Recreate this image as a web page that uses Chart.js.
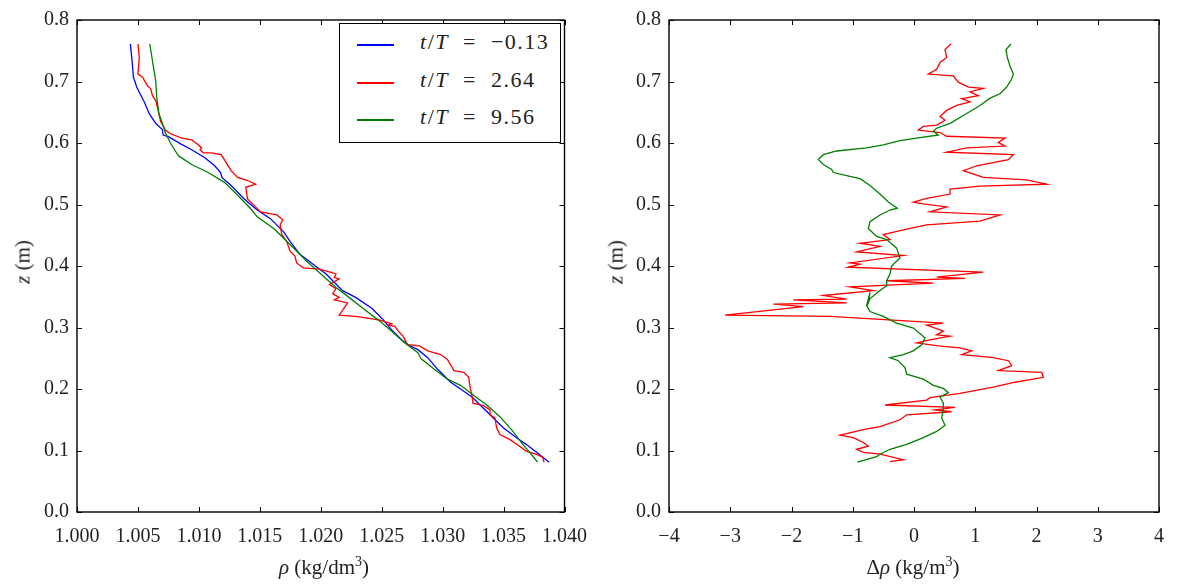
<!DOCTYPE html>
<html>
<head>
<meta charset="utf-8">
<script src="https://cdn.jsdelivr.net/npm/chart.js@4.4.1/dist/chart.umd.min.js"></script>
<style>
  body { margin: 0; background: #fff; font-family: "Liberation Serif", serif; }
  #wrap { position: relative; width: 1180px; height: 587px; overflow: hidden; }
  .box { position: absolute; top: 0; height: 587px; }
  .title { position: absolute; font-size: 21px; color: #222; white-space: nowrap; }
  .ytitle { transform: translate(-50%, -50%) rotate(-90deg); }
  .xtitle { transform: translate(-50%, -50%); }
  sup { font-size: 14px; vertical-align: 8px; line-height: 0; }
  #legend { position: absolute; left: 339px; top: 23px; width: 220px; height: 118px; border: 1.5px solid #000; background: #fff; }
  .row { position: absolute; left: 0; width: 220px; height: 30px; font-size: 22px; color: #222; }
  .row .ln { position: absolute; left: 17px; width: 37px; top: 18px; height: 1.6px; }
  .row .tx { position: absolute; left: 80px; top: 3px; white-space: nowrap; letter-spacing: 1.5px; }
</style>
</head>
<body>
<div id="wrap">
  <div class="box" style="left:0;width:600px"><canvas id="left-chart" width="600" height="587"></canvas></div>
  <div class="box" style="left:600px;width:580px"><canvas id="right-chart" width="580" height="587"></canvas></div>
  <div class="title ytitle" style="left:23px;top:262px"><i>z</i> (m)</div>
  <div class="title ytitle" style="left:616px;top:262px"><i>z</i> (m)</div>
  <div class="title xtitle" style="left:324px;top:567px"><i>ρ</i> (kg/dm<sup>3</sup>)</div>
  <div class="title xtitle" style="left:913px;top:567px">Δ<i>ρ</i> (kg/m<sup>3</sup>)</div>
  <div id="legend">
    <div class="row" style="top:2px"><div class="ln" style="background:#0000ff"></div><span class="tx"><i>t</i>/<i>T</i>&nbsp; =&nbsp; −0.13</span></div>
    <div class="row" style="top:40px"><div class="ln" style="background:#ff0000"></div><span class="tx"><i>t</i>/<i>T</i>&nbsp; =&nbsp; 2.64</span></div>
    <div class="row" style="top:77px"><div class="ln" style="background:#008000"></div><span class="tx"><i>t</i>/<i>T</i>&nbsp; =&nbsp; 9.56</span></div>
  </div>
</div>
<script>
// ---- data: left panel, density profiles rho(z) ----
const blueRho = [1.00438, 1.00452, 1.00463, 1.0049, 1.0051, 1.00551, 1.00592, 1.00645, 1.007, 1.00707, 1.00753, 1.00847, 1.00941, 1.01049, 1.0113, 1.01178, 1.01189, 1.01264, 1.01372, 1.01479, 1.01587, 1.01694, 1.01748, 1.01829, 1.01937, 1.02044, 1.02098, 1.02179, 1.02286, 1.02421, 1.02515, 1.02582, 1.02663, 1.02717, 1.02797, 1.02878, 1.02959, 1.03066, 1.03147, 1.03241, 1.03308, 1.03389, 1.03497, 1.03604, 1.03685, 1.03792, 1.03873];
const blueZ = [0.761, 0.733, 0.707, 0.691, 0.683, 0.667, 0.648, 0.632, 0.622, 0.613, 0.610, 0.599, 0.589, 0.576, 0.563, 0.552, 0.544, 0.531, 0.509, 0.491, 0.477, 0.456, 0.44, 0.419, 0.403, 0.387, 0.376, 0.36, 0.349, 0.331, 0.312, 0.296, 0.28, 0.272, 0.264, 0.251, 0.232, 0.211, 0.2, 0.187, 0.174, 0.158, 0.137, 0.121, 0.110, 0.094, 0.081];

const redRho = [1.005, 1.00511, 1.005, 1.00538, 1.00578, 1.00605, 1.00619, 1.00646, 1.00659, 1.00672, 1.00686, 1.00726, 1.00767, 1.00861, 1.00941, 1.00995, 1.01022, 1.01009, 1.01036, 1.01103, 1.01184, 1.01224, 1.01264, 1.01318, 1.01399, 1.01466, 1.01385, 1.01399, 1.01452, 1.01506, 1.0164, 1.01688, 1.01667, 1.0168, 1.0172, 1.01748, 1.01788, 1.01802, 1.01856, 1.0199, 1.02098, 1.02125, 1.02111, 1.02151, 1.02071, 1.02125, 1.02098, 1.02151, 1.02111, 1.0222, 1.02151, 1.02286, 1.02488, 1.02582, 1.02555, 1.02609, 1.02636, 1.02676, 1.02703, 1.02717, 1.0281, 1.02878, 1.02985, 1.03039, 1.03093, 1.03174, 1.03214, 1.03227, 1.0324, 1.03249, 1.03335, 1.03389, 1.03389, 1.03429, 1.03443, 1.0347, 1.0355, 1.03631, 1.03685, 1.03766, 1.0382, 1.03833];
const redZ = [0.761, 0.739, 0.712, 0.707, 0.693, 0.688, 0.677, 0.669, 0.659, 0.648, 0.635, 0.621, 0.615, 0.608, 0.605, 0.597, 0.592, 0.589, 0.584, 0.584, 0.581, 0.568, 0.555, 0.544, 0.539, 0.533, 0.528, 0.509, 0.499, 0.488, 0.483, 0.475, 0.467, 0.451, 0.440, 0.424, 0.416, 0.405, 0.397, 0.395, 0.389, 0.387, 0.381, 0.379, 0.370, 0.363, 0.355, 0.349, 0.345, 0.340, 0.320, 0.318, 0.312, 0.306, 0.304, 0.302, 0.294, 0.286, 0.275, 0.272, 0.27, 0.262, 0.256, 0.248, 0.23, 0.227, 0.219, 0.201, 0.19, 0.177, 0.173, 0.166, 0.158, 0.153, 0.137, 0.126, 0.118, 0.107, 0.099, 0.094, 0.089, 0.081];

const greenRho = [1.00597, 1.00624, 1.00646, 1.00654, 1.00672, 1.007, 1.00726, 1.00767, 1.00807, 1.00834, 1.00941, 1.01076, 1.0121, 1.01318, 1.01425, 1.01479, 1.01614, 1.01748, 1.01883, 1.02017, 1.02125, 1.02232, 1.02367, 1.02474, 1.02582, 1.0269, 1.02797, 1.02824, 1.02932, 1.03039, 1.03147, 1.03254, 1.03362, 1.0347, 1.03577, 1.03658, 1.03739, 1.03779];
const greenZ = [0.761, 0.728, 0.701, 0.675, 0.648, 0.632, 0.616, 0.600, 0.587, 0.579, 0.565, 0.552, 0.536, 0.515, 0.493, 0.48, 0.461, 0.435, 0.408, 0.384, 0.365, 0.349, 0.328, 0.312, 0.294, 0.275, 0.259, 0.249, 0.232, 0.216, 0.206, 0.19, 0.174, 0.155, 0.131, 0.110, 0.091, 0.081];

// ---- data: right panel, density anomaly drho(z) ----
const redDrho = [0.604, 0.506, 0.533, 0.425, 0.37, 0.234, 0.642, 0.724, 0.887, 1.132, 0.914, 1.05, 0.778, 0.914, 0.697, 0.533, 0.425, 0.506, 0.37, 0.152, 0.071, 0.425, 0.533, 1.486, 1.376, 1.486, 0.86, 0.533, 1.622, 1.54, 1.023, 0.805, 1.132, 1.839, 2.166, 1.078, 0.588, 0.588, 0.207, -0.011, 0.152, 0.533, 0.261, 1.404, 1.078, 0.207, -0.12, -0.501, -0.392, -0.882, -0.555, -0.936, -0.174, -1.045, -0.882, -1.072, 1.132, 0.37, 0.833, -0.446, 0.316, -1.045, -0.664, -1.48, -1.099, -1.97, -1.099, -2.297, -1.807, -3.086, -1.371, 0.479, 0.207, 0.479, 0.37, 0.588, 0.261, 0.044, 0.397, 0.751, 0.942, 0.778, 1.295, 1.54, 1.595, 1.377, 2.084, 2.112, 1.649, 1.295, 0.751, 0.261, 0.207, -0.473, 0.669, 0.343, 0.615, -0.12, -0.229, -0.555, -0.827, -1.208, -0.991, -0.827, -0.746, -0.936, -0.827, -0.555, -0.174, -0.392];
const redDZ = [0.761, 0.752, 0.739, 0.731, 0.72, 0.712, 0.709, 0.699, 0.691, 0.689, 0.683, 0.677, 0.672, 0.667, 0.661, 0.653, 0.643, 0.637, 0.629, 0.627, 0.621, 0.617, 0.611, 0.608, 0.601, 0.595, 0.592, 0.585, 0.581, 0.573, 0.563, 0.555, 0.544, 0.54, 0.533, 0.53, 0.525, 0.517, 0.51, 0.504, 0.501, 0.496, 0.488, 0.483, 0.473, 0.467, 0.46, 0.451, 0.443, 0.437, 0.432, 0.423, 0.417, 0.405, 0.403, 0.398, 0.39, 0.382, 0.38, 0.376, 0.372, 0.366, 0.36, 0.352, 0.346, 0.345, 0.34, 0.338, 0.334, 0.320, 0.318, 0.307, 0.304, 0.294, 0.288, 0.286, 0.28, 0.275, 0.27, 0.267, 0.262, 0.256, 0.251, 0.246, 0.238, 0.23, 0.227, 0.219, 0.211, 0.203, 0.193, 0.186, 0.182, 0.174, 0.17, 0.166, 0.163, 0.158, 0.15, 0.139, 0.134, 0.125, 0.121, 0.113, 0.107, 0.102, 0.097, 0.094, 0.085, 0.082];

const greenDrho = [1.584, 1.502, 1.524, 1.567, 1.622, 1.595, 1.513, 1.404, 1.241, 1.078, 0.86, 0.588, 0.37, 0.316, 0.397, 0.044, -0.229, -0.501, -0.773, -1.263, -1.48, -1.562, -1.48, -1.344, -1.317, -1.099, -0.882, -0.718, -0.555, -0.419, -0.272, -0.392, -0.555, -0.718, -0.746, -0.61, -0.446, -0.283, -0.229, -0.365, -0.392, -0.446, -0.446, -0.555, -0.718, -0.746, -0.718, -0.773, -0.718, -0.501, -0.283, -0.011, 0.125, 0.18, 0.125, -0.011, -0.174, -0.392, -0.256, -0.147, -0.12, 0.152, 0.316, 0.479, 0.561, 0.425, 0.479, 0.479, 0.452, 0.506, 0.37, 0.152, -0.12, -0.392, -0.555, -0.61, -0.925];
const greenDZ = [0.761, 0.752, 0.739, 0.725, 0.712, 0.704, 0.691, 0.68, 0.673, 0.661, 0.648, 0.632, 0.624, 0.619, 0.613, 0.608, 0.604, 0.597, 0.592, 0.587, 0.581, 0.573, 0.565, 0.557, 0.552, 0.547, 0.542, 0.531, 0.517, 0.504, 0.494, 0.491, 0.483, 0.472, 0.461, 0.448, 0.443, 0.429, 0.413, 0.4, 0.387, 0.376, 0.368, 0.36, 0.347, 0.34, 0.357, 0.336, 0.326, 0.318, 0.307, 0.299, 0.288, 0.283, 0.272, 0.262, 0.256, 0.251, 0.246, 0.235, 0.224, 0.216, 0.206, 0.201, 0.194, 0.187, 0.177, 0.166, 0.153, 0.141, 0.131, 0.121, 0.11, 0.102, 0.094, 0.09, 0.081];

// ---- tick labels ----
const zTicks = [0.0, 0.1, 0.2, 0.3, 0.4, 0.5, 0.6, 0.7, 0.8];
const rhoTicks = [1.000, 1.005, 1.010, 1.015, 1.020, 1.025, 1.030, 1.035, 1.040];
const drhoTicks = [-4, -3, -2, -1, 0, 1, 2, 3, 4];

function pairs(xs, ys) {
  return xs.map((x, i) => ({ x: x, y: ys[i] }));
}

function lineSet(xs, ys, color, order) {
  return {
    data: pairs(xs, ys),
    borderColor: color,
    borderWidth: 1.3,
    pointRadius: 0,
    showLine: true,
    fill: false,
    tension: 0,
    order: order
  };
}

// matplotlib-classic style: ticks pointing inwards on all four sides
const innerTicks = {
  id: 'innerTicks',
  afterDatasetsDraw(chart) {
    const c = chart.ctx;
    const a = chart.chartArea;
    const xs = chart.scales.x, ys = chart.scales.y;
    c.save();
    c.strokeStyle = '#000';
    c.lineWidth = 1;
    c.beginPath();
    xs.ticks.forEach(t => {
      const px = Math.round(xs.getPixelForValue(t.value)) + 0.5;
      c.moveTo(px, a.bottom); c.lineTo(px, a.bottom - 5);
      c.moveTo(px, a.top); c.lineTo(px, a.top + 5);
    });
    ys.ticks.forEach(t => {
      const py = Math.round(ys.getPixelForValue(t.value)) + 0.5;
      c.moveTo(a.left, py); c.lineTo(a.left + 5, py);
      c.moveTo(a.right, py); c.lineTo(a.right - 5, py);
    });
    c.stroke();
    c.lineWidth = 1.4;
    c.strokeRect(a.left, a.top, a.right - a.left, a.bottom - a.top);
    c.restore();
  }
};

const tickFont = { family: '"Liberation Serif", serif', size: 20 };

function makeOptions(xMin, xMax, xTicks, xFmt, pad) {
  return {
    responsive: false,
    animation: false,
    layout: { autoPadding: false, padding: pad },
    plugins: { legend: { display: false }, tooltip: { enabled: false } },
    scales: {
      x: {
        type: 'linear',
        min: xMin,
        max: xMax,
        afterBuildTicks: s => { s.ticks = xTicks.map(v => ({ value: v })); },
        afterFit: s => { s.height = 75; },
        grid: { display: false, drawTicks: false },
        border: { display: false },
        ticks: { color: '#222', font: tickFont, padding: 13, maxRotation: 0, autoSkip: false, callback: xFmt }
      },
      y: {
        type: 'linear',
        min: 0,
        max: 0.8,
        afterBuildTicks: s => { s.ticks = zTicks.map(v => ({ value: v })); },
        afterFit: s => { s.width = pad.yw; },
        grid: { display: false, drawTicks: false },
        border: { display: false },
        ticks: { color: '#222', font: tickFont, padding: 8, autoSkip: false, callback: v => v.toFixed(1) }
      }
    }
  };
}

function drawCharts() {
  new Chart(document.getElementById('left-chart'), {
    type: 'scatter',
    data: {
      datasets: [
        lineSet(blueRho, blueZ, '#0000ff', 3),
        lineSet(redRho, redZ, '#ff0000', 2),
        lineSet(greenRho, greenZ, '#008000', 1)
      ]
    },
    options: makeOptions(1.0, 1.04, rhoTicks, v => v.toFixed(3), { left: 0, right: 28, top: 12, bottom: 0, yw: 77 }),
    plugins: [innerTicks]
  });

  new Chart(document.getElementById('right-chart'), {
    type: 'scatter',
    data: {
      datasets: [
        lineSet(redDrho, redDZ, '#ff0000', 2),
        lineSet(greenDrho, greenDZ, '#008000', 1)
      ]
    },
    options: makeOptions(-4, 4, drhoTicks, v => (v < 0 ? '−' + Math.abs(v) : String(v)), { left: 0, right: 21, top: 12, bottom: 0, yw: 69 }),
    plugins: [innerTicks]
  });
}

// make sure the serif face is loaded before the canvas draws text
document.fonts.load('20px "Liberation Serif"').then(drawCharts, drawCharts);
</script>
</body>
</html>
